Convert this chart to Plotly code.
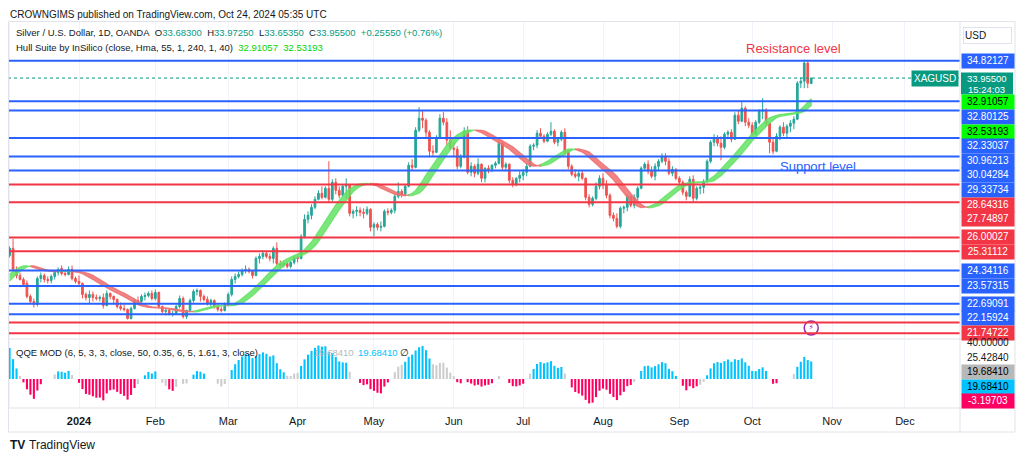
import numpy as np
import pandas as pd
import plotly.graph_objects as go

# ---------------------------------------------------------------- data
# daily closes used only to warm up the indicators (Aug 1 - Nov 30 2023, not shown)
warmup_close = [
    24.35, 23.85, 23.55, 23.65, 23.45, 22.95, 22.95, 22.70, 22.70, 22.65, 22.60, 22.55,
    22.70, 22.75, 23.35, 23.65, 24.15, 24.20, 24.25, 24.35, 24.75, 24.65, 24.45,
    24.20, 24.10, 23.60, 23.15, 23.00, 22.95, 23.10, 23.10, 22.95, 22.65, 23.00,
    23.30, 23.50, 23.00, 23.40, 23.70, 23.40, 22.90, 22.70, 22.80, 22.10,
    21.10, 21.00, 21.10, 20.85, 21.60, 21.80, 21.95, 22.20, 21.65, 22.60, 22.45,
    22.90, 22.85, 23.20, 23.35, 22.90, 22.90, 22.85, 22.85, 23.15, 23.10, 22.90,
    23.10, 23.00, 23.30, 23.20, 22.40, 22.40, 22.65, 22.25, 22.25, 23.20, 23.40,
    23.85, 23.75, 23.75, 23.80, 23.55, 23.75, 24.40, 24.75, 24.95, 25.10, 25.15,
]

# visible daily bars, Dec 1 2023 - Oct 24 2024
open_ = [
    25.10, 25.45, 24.40, 24.10, 23.90, 23.70, 23.05, 22.80, 22.65, 23.95,
    24.10, 23.90, 23.85, 24.05, 24.25, 24.45, 24.20, 24.15, 24.40, 23.95,
    23.80, 23.70, 23.15, 23.00, 23.15, 23.00, 22.95, 23.00, 22.60, 23.20, 23.05,
    22.90, 22.55, 22.45, 22.40, 21.95, 22.45, 22.85, 22.80, 23.05, 23.10, 23.20,
    22.95, 23.25, 22.55, 22.30, 22.35, 22.15, 22.20, 22.55, 22.95, 22.05, 22.35,
    22.85, 23.30, 23.35, 23.05, 22.90, 22.70, 22.85, 22.55, 22.40, 22.35,
    22.65, 23.15, 23.90, 24.05, 24.15, 24.35, 24.40, 24.30, 24.10, 24.95,
    25.05, 25.20, 25.05, 24.95, 25.45, 24.70, 24.60, 24.70, 24.55, 24.75,
    25.00, 24.95, 26.05, 26.90, 27.10, 27.50, 27.90, 28.20, 28.00, 28.45, 27.90,
    28.75, 28.35, 28.10, 28.55, 28.60, 27.20, 27.30, 27.35, 27.25, 27.20, 27.40,
    26.50, 26.65, 26.50, 26.55, 27.30, 27.25, 27.35, 28.05, 28.30, 28.15, 28.55, 29.60,
    29.50, 31.35, 31.95, 31.85, 31.25, 30.30, 30.25, 30.95, 31.95, 31.75, 30.85,
    30.45, 30.40, 29.55, 30.00, 31.30, 29.25, 29.55, 29.20, 29.65, 28.95,
    29.45, 29.40, 29.60, 29.70, 30.70, 29.50, 29.65, 28.85, 28.65, 28.95,
    29.10, 29.25, 29.55, 30.55, 30.60, 31.20, 31.05, 30.80, 31.15, 31.30, 30.75, 30.90,
    31.25, 30.30, 29.55, 29.15, 29.05, 29.20, 28.95, 28.00, 27.65, 27.95, 28.55,
    28.95, 28.60, 28.10, 27.10, 26.95, 26.55, 27.45, 27.50, 28.05, 27.60, 28.00,
    28.45, 29.45, 29.65, 29.30, 29.05, 29.55, 29.80, 30.05, 29.80, 29.20, 29.40,
    28.95, 28.75, 28.25, 28.05, 28.90, 27.95, 28.45, 28.50, 28.80, 29.80, 30.75,
    30.95, 30.70, 30.50, 31.15, 31.25, 30.90, 32.10, 31.80, 32.45, 31.75,
    31.60, 31.15, 31.75, 32.30, 32.35, 31.70, 30.75, 30.30, 31.05, 31.50,
    31.20, 31.55, 31.70, 31.90, 33.70, 33.80, 34.70, 33.683,
]
high = [
    25.55, 25.92, 24.55, 24.25, 24.00, 23.85, 23.15, 22.95, 24.05, 24.25,
    24.20, 24.05, 24.15, 24.35, 24.50, 24.60, 24.35, 24.55, 24.60, 24.05,
    24.10, 23.75, 23.25, 23.35, 23.30, 23.15, 23.10, 23.20, 23.35, 23.25, 23.10,
    22.95, 22.75, 22.65, 22.45, 22.55, 22.95, 23.05, 23.15, 23.25, 23.30, 23.35,
    23.40, 23.30, 22.60, 22.50, 22.45, 22.35, 22.65, 23.10, 23.05, 22.40, 22.95,
    23.40, 23.45, 23.40, 23.15, 23.05, 22.95, 22.90, 22.65, 22.55, 22.75,
    23.25, 24.05, 24.20, 24.30, 24.45, 24.60, 24.50, 24.35, 25.05, 25.20,
    25.35, 25.30, 25.20, 25.55, 25.75, 24.85, 24.80, 24.80, 24.85, 25.10,
    25.10, 26.15, 27.15, 27.30, 27.65, 28.05, 28.35, 28.55, 28.55, 29.80, 28.90,
    28.95, 28.55, 28.65, 28.95, 28.65, 27.40, 27.55, 27.50, 27.45, 27.55, 27.45,
    26.75, 26.75, 26.80, 27.40, 27.45, 27.45, 28.15, 28.75, 28.40, 28.65, 29.75, 29.90,
    31.50, 32.50, 32.35, 31.95, 31.35, 30.60, 31.10, 32.15, 32.25, 31.95, 31.35,
    30.80, 30.55, 30.15, 31.50, 31.55, 29.75, 29.65, 29.95, 29.70, 29.50,
    29.60, 29.65, 29.80, 30.85, 30.85, 29.75, 29.70, 29.00, 29.00, 29.30,
    29.40, 29.70, 30.65, 30.70, 31.35, 31.45, 31.15, 31.25, 31.75, 31.40, 30.95, 31.35,
    31.45, 30.35, 29.65, 29.40, 29.35, 29.35, 29.00, 28.15, 28.05, 28.75, 29.10,
    29.20, 28.85, 28.20, 27.25, 27.20, 27.55, 27.60, 28.15, 28.10, 28.15, 28.55,
    29.55, 29.75, 29.85, 29.55, 29.70, 29.90, 30.20, 30.20, 29.95, 29.55, 29.45,
    29.05, 28.85, 28.35, 29.05, 29.10, 28.55, 28.60, 28.90, 29.90, 30.85, 31.15,
    31.10, 31.05, 31.25, 31.35, 31.40, 32.25, 32.35, 32.75, 32.55, 31.95,
    31.75, 31.85, 32.40, 32.95, 32.45, 31.75, 30.95, 31.20, 31.60, 31.75,
    31.65, 31.85, 32.05, 33.80, 34.00, 34.87, 34.86, 33.9725,
]
low = [
    25.00, 24.30, 23.95, 23.85, 23.55, 22.95, 22.70, 22.50, 22.55, 23.75,
    23.75, 23.70, 23.70, 23.90, 24.10, 24.10, 24.05, 24.10, 23.85, 23.70,
    23.60, 22.95, 22.85, 22.70, 22.80, 22.85, 22.80, 22.45, 22.55, 22.90, 22.65,
    22.45, 22.35, 22.30, 21.90, 21.90, 22.40, 22.70, 22.75, 22.85, 23.00, 22.85,
    22.85, 22.45, 22.20, 22.10, 22.10, 22.05, 22.15, 22.45, 21.95, 21.93, 22.30,
    22.75, 23.10, 22.80, 22.80, 22.60, 22.55, 22.45, 22.30, 22.25, 22.30,
    22.55, 23.05, 23.70, 23.95, 24.05, 24.20, 24.20, 23.95, 24.05, 24.70,
    24.90, 24.95, 24.80, 24.70, 24.60, 24.50, 24.50, 24.45, 24.45, 24.65,
    24.75, 24.90, 25.95, 26.70, 26.90, 27.40, 27.85, 27.90, 27.95, 27.75, 27.80,
    28.15, 27.95, 28.00, 27.90, 27.05, 26.95, 27.05, 27.05, 26.95, 27.10, 26.30,
    26.05, 26.35, 26.30, 26.50, 27.10, 27.15, 27.20, 27.95, 28.00, 28.05, 28.50, 29.35,
    29.45, 31.25, 31.45, 30.95, 30.00, 30.05, 30.20, 30.90, 31.60, 30.60, 30.35,
    30.05, 29.40, 29.45, 29.95, 29.15, 29.05, 29.00, 29.10, 28.75, 28.75,
    29.20, 29.25, 29.45, 29.65, 29.35, 29.30, 28.70, 28.50, 28.55, 28.75,
    28.85, 29.05, 29.50, 30.35, 30.45, 30.95, 30.70, 30.75, 31.05, 30.65, 30.55, 30.80,
    30.10, 29.40, 29.05, 28.95, 28.80, 28.85, 27.85, 27.50, 27.55, 27.85, 28.40,
    28.40, 27.95, 26.95, 26.80, 26.45, 26.45, 27.20, 27.30, 27.50, 27.45, 27.85,
    28.40, 29.30, 29.15, 28.95, 28.85, 29.30, 29.70, 29.60, 29.10, 29.05, 28.85,
    28.65, 28.10, 27.85, 28.00, 27.75, 27.85, 28.15, 28.20, 28.70, 29.70, 30.55,
    30.55, 29.85, 30.40, 30.90, 30.75, 30.85, 31.65, 31.75, 31.55, 31.45,
    31.05, 31.10, 31.65, 31.90, 31.55, 30.20, 30.15, 30.25, 30.85, 31.05,
    31.00, 31.25, 31.40, 31.85, 33.45, 33.45, 33.45, 33.6535,
]
close = [
    25.45, 24.40, 24.10, 23.90, 23.65, 23.05, 22.80, 22.65, 23.95, 24.10,
    23.90, 23.85, 24.05, 24.25, 24.40, 24.20, 24.15, 24.40, 23.95, 23.80,
    23.70, 23.15, 23.00, 23.15, 23.00, 22.95, 23.00, 22.60, 23.20, 23.05, 22.90,
    22.55, 22.45, 22.40, 21.95, 22.45, 22.85, 22.80, 23.05, 23.10, 23.20, 22.95,
    23.25, 22.55, 22.30, 22.35, 22.15, 22.20, 22.55, 22.95, 22.05, 22.35, 22.85,
    23.30, 23.35, 23.05, 22.90, 22.70, 22.85, 22.55, 22.40, 22.35, 22.65,
    23.15, 23.90, 24.05, 24.15, 24.35, 24.40, 24.30, 24.10, 24.95, 25.05,
    25.20, 25.05, 24.95, 25.45, 24.70, 24.60, 24.70, 24.55, 24.75, 25.00,
    24.95, 26.05, 26.90, 27.10, 27.50, 27.90, 28.20, 28.00, 28.45, 27.90, 28.75,
    28.35, 28.10, 28.55, 28.60, 27.20, 27.30, 27.35, 27.25, 27.20, 27.40, 26.50,
    26.65, 26.50, 26.55, 27.30, 27.25, 27.35, 28.05, 28.30, 28.15, 28.55, 29.60, 29.50,
    31.35, 31.95, 31.85, 31.25, 30.30, 30.25, 30.95, 31.95, 31.75, 30.85, 30.45,
    30.40, 29.55, 30.00, 31.30, 29.25, 29.55, 29.20, 29.65, 28.95, 29.45,
    29.40, 29.60, 29.70, 30.70, 29.50, 29.65, 28.85, 28.65, 28.95, 29.10,
    29.25, 29.55, 30.55, 30.60, 31.20, 31.05, 30.80, 31.15, 31.30, 30.75, 30.90, 31.25,
    30.30, 29.55, 29.15, 29.05, 29.20, 28.95, 28.00, 27.65, 27.95, 28.55, 28.95,
    28.60, 28.10, 27.10, 26.95, 26.55, 27.45, 27.50, 28.05, 27.60, 28.00, 28.45,
    29.45, 29.65, 29.30, 29.05, 29.55, 29.80, 30.05, 29.80, 29.20, 29.40, 28.95,
    28.75, 28.25, 28.05, 28.90, 27.95, 28.45, 28.50, 28.80, 29.80, 30.75, 30.95,
    30.70, 30.50, 31.15, 31.25, 30.90, 32.10, 31.80, 32.45, 31.75, 31.60,
    31.15, 31.75, 32.30, 32.35, 31.70, 30.75, 30.30, 31.05, 31.50, 31.20,
    31.55, 31.70, 31.90, 33.70, 33.80, 34.70, 33.6995, 33.955,
]

holidays = ["2023-12-25", "2024-01-01", "2024-03-29"]
dates = pd.bdate_range("2023-12-01", "2024-10-24")
dates = dates[~dates.isin(pd.to_datetime(holidays))]

blue_levels = [34.82127, 32.80125, 32.33037, 30.96213, 30.04284, 29.33734,
               24.34116, 23.57315, 22.69091, 22.15924]
red_levels = [28.64316, 27.74897, 26.00027, 25.31112, 21.74722]
red_unlabelled = [21.21]
last_price = 33.955
hull_last = [32.91057, 32.53193]
qqe_axis_labels = [40.0, 25.4284]
qqe_last = [19.6841, 19.6841, -3.19703]

tick_dates = ["2023-12-01", "2024-01-02", "2024-02-01", "2024-03-01", "2024-04-01",
              "2024-05-01", "2024-06-03", "2024-07-01", "2024-08-01", "2024-09-02",
              "2024-10-01", "2024-11-01", "2024-12-02"]
tick_text = ["Dec", "<b>2024</b>", "Feb", "Mar", "Apr", "May", "Jun", "Jul", "Aug",
             "Sep", "Oct", "Nov", "Dec"]

# ---------------------------------------------------------------- styles
FONT = "Liberation Sans"
TEXT = "#131722"
UP, DOWN = "#26a69a", "#ef5350"
BLUE, RED, TEAL = "#2962ff", "#f23645", "#089981"
LIME = "#00ff00"
HULL_UP, HULL_DN = "rgba(100,226,100,0.85)", "rgba(238,110,110,0.85)"
CYAN, PINK, SILVER = "#00c3ff", "#ff0062", "#cdcdcd"
BORDER, GRID = "#e0e3eb", "#f0f3fa"

# the page puts the figure 8px in from the top-left corner of the window;
# all pixel positions below are window pixels
OFF = 8
W, H = 1024 - OFF, 458 - OFF
M_L, M_R, M_T, M_B = 8 - OFF, 64, 22 - OFF, 50
PLOT_W, PLOT_H = W - M_L - M_R, H - M_T - M_B
MAIN_TOP, MAIN_BOT = 22, 338
QQE_TOP, QQE_BOT = 340, 408
Y_MAIN = [20.977, 36.753]
Y_QQE = [-32.2, 43.3]


def py(px):
    return (H - M_B - (px - OFF)) / PLOT_H


def pxx(px):
    return (px - OFF - M_L) / PLOT_W


def px_main(v):
    return MAIN_TOP + (Y_MAIN[1] - v) / (Y_MAIN[1] - Y_MAIN[0]) * (MAIN_BOT - MAIN_TOP)


def px_qqe(v):
    return QQE_TOP + (Y_QQE[1] - v) / (Y_QQE[1] - Y_QQE[0]) * (QQE_BOT - QQE_TOP)


# ---------------------------------------------------------------- indicators
def wma(s, n):
    w = np.arange(1, n + 1)
    return s.rolling(n).apply(lambda a: np.dot(a, w) / w.sum(), raw=True)


def hma(s, n):
    return wma(2 * wma(s, n // 2) - wma(s, n), int(round(np.sqrt(n))))


def rsi(s, n):
    d = s.diff()
    up = d.clip(lower=0).ewm(alpha=1 / n, adjust=False).mean()
    dn = (-d.clip(upper=0)).ewm(alpha=1 / n, adjust=False).mean()
    return 100 - 100 / (1 + up / dn)


def qqe_trail(rsi_ma, factor, wilders):
    dar = rsi_ma.diff().abs().ewm(span=wilders, adjust=False).mean()
    dar = dar.ewm(span=wilders, adjust=False).mean() * factor
    r, d = np.nan_to_num(rsi_ma.values), np.nan_to_num(dar.values)
    n = len(r)
    lb, sb, tr = np.zeros(n), np.zeros(n), np.ones(n)
    for i in range(1, n):
        nl, ns = r[i] - d[i], r[i] + d[i]
        lb[i] = max(lb[i - 1], nl) if (r[i - 1] > lb[i - 1] and r[i] > lb[i - 1]) else nl
        sb[i] = min(sb[i - 1], ns) if (r[i - 1] < sb[i - 1] and r[i] < sb[i - 1]) else ns
        sb2 = sb[i - 2] if i > 1 else sb[0]
        x_up = (r[i] > sb[i - 1]) != (r[i - 1] > sb2)
        lb2 = lb[i - 2] if i > 1 else lb[0]
        x_dn = (lb[i - 1] > r[i]) != (lb2 > r[i - 1])
        tr[i] = 1 if x_up else (-1 if x_dn else tr[i - 1])
    return pd.Series(np.where(tr == 1, lb, sb))


full = pd.Series(warmup_close + close, dtype=float)
n0 = len(warmup_close)

hull = hma(full, 55)
mhull = hull.values[n0:]
shull = hull.shift(2).values[n0:]
hull_up = mhull > shull

rsi_ma = rsi(full, 6).ewm(span=5, adjust=False).mean()
trail = qqe_trail(rsi_ma, 3.0, 11) - 50
basis = trail.rolling(50).mean()
dev = 0.35 * trail.rolling(50).std(ddof=0)
upper, lower = (basis + dev).values[n0:], (basis - dev).values[n0:]
hist = (rsi_ma - 50).values[n0:]
qqe_y, qqe_c = [], []
for hv, up_b, lo_b in zip(hist, upper, lower):
    if hv > 3 and hv > up_b:
        qqe_y.append(hv); qqe_c.append(CYAN)
    elif hv < -3 and hv < lo_b:
        qqe_y.append(hv); qqe_c.append(PINK)
    elif abs(hv) > 3:
        qqe_y.append(hv); qqe_c.append(SILVER)
    else:
        qqe_y.append(None); qqe_c.append(SILVER)

# ---------------------------------------------------------------- figure
fig = go.Figure()
fig.add_trace(go.Candlestick(
    x=dates, open=open_, high=high, low=low, close=close,
    increasing=dict(line=dict(color=UP, width=1), fillcolor=UP),
    decreasing=dict(line=dict(color=DOWN, width=1), fillcolor=DOWN),
    whiskerwidth=0, hoverinfo="skip", xaxis="x", yaxis="y",
))

# hull band, one filled polygon per colour run
start = 0
for i in range(1, len(hull_up) + 1):
    if i == len(hull_up) or hull_up[i] != hull_up[start]:
        end = min(i, len(hull_up) - 1)
        seg = list(dates[start:end + 1])
        col = HULL_UP if hull_up[start] else HULL_DN
        fig.add_trace(go.Scatter(
            x=seg + seg[::-1],
            y=list(mhull[start:end + 1]) + list(shull[start:end + 1])[::-1],
            mode="lines", fill="toself", fillcolor=col,
            line=dict(color=col, width=1.2), hoverinfo="skip", xaxis="x", yaxis="y",
        ))
        start = i

fig.add_trace(go.Bar(x=dates, y=qqe_y, marker=dict(color=qqe_c, line=dict(width=0)),
                     hoverinfo="skip", xaxis="x", yaxis="y2"))

# event marker
fig.add_trace(go.Scatter(
    x=[dates[-1]], y=[Y_MAIN[0] + 0.5], mode="markers+text", text=["⚡"],
    textposition="middle center", textfont=dict(size=8, color="#9c27b0", family="DejaVu Sans"),
    marker=dict(size=14, color="white", line=dict(color="#9c27b0", width=1.5)),
    hoverinfo="skip", xaxis="x", yaxis="y",
))

shapes = []
for lv in blue_levels:
    shapes.append(dict(type="line", xref="paper", x0=0, x1=1, yref="y", y0=lv, y1=lv,
                       line=dict(color=BLUE, width=2), layer="above"))
for lv in red_levels + red_unlabelled:
    shapes.append(dict(type="line", xref="paper", x0=0, x1=1, yref="y", y0=lv, y1=lv,
                       line=dict(color=RED, width=2), layer="above"))
shapes.append(dict(type="line", xref="paper", x0=0, x1=1, yref="y", y0=last_price,
                   y1=last_price, line=dict(color=TEAL, width=1, dash="dot"), layer="above"))
for y_px in (339, 408):
    shapes.append(dict(type="line", xref="paper", yref="paper", x0=pxx(8), x1=pxx(1015),
                       y0=py(y_px), y1=py(y_px), line=dict(color=BORDER, width=1), layer="above"))
shapes.append(dict(type="line", xref="paper", yref="paper", x0=1, x1=1, y0=py(432), y1=py(22),
                   line=dict(color=BORDER, width=1), layer="above"))
shapes.append(dict(type="rect", xref="paper", yref="paper", x0=pxx(8.5), x1=pxx(1015),
                   y0=py(432), y1=py(21.5), line=dict(color=BORDER, width=1), layer="above"))

ann = []


def stack(items, to_px, h=13.6, gap=1.0):
    out, bottom = [], -1e9
    for it in sorted(items, key=lambda t: -t[0]):
        top_off = 5.5 if it[4] else h / 2
        bot_off = 16.5 if it[4] else h / 2
        top = max(to_px(it[0]) - top_off, bottom + gap)
        c = top + top_off
        bottom = c + bot_off
        out.append((c,) + tuple(it[1:]))
    return out


def box(c, text, bg, fg, h=13.6):
    ann.append(dict(xref="paper", yref="paper", x=1, y=py(c), xanchor="left", yanchor="middle",
                    xshift=1, text=text, showarrow=False, bgcolor=bg, width=50, height=h - 2,
                    borderpad=1, font=dict(size=10, color=fg, family=FONT)))


main_items = [(v, f"{v:.5f}", BLUE, "white", False) for v in blue_levels]
main_items += [(v, f"{v:.5f}", RED, "white", False) for v in red_levels]
main_items += [(v, f"{v:.5f}", LIME, "black", False) for v in hull_last]
main_items.append((last_price, f"{last_price:.5f}", TEAL, "white", True))
for c, text, bg, fg, tall in stack(main_items, px_main):
    if tall:
        shapes.append(dict(type="rect", xref="paper", yref="paper", x0=pxx(961), x1=pxx(1013),
                           y0=py(c + 16.5), y1=py(c - 5.5), fillcolor=bg,
                           line=dict(width=0), layer="above"))
        ann.append(dict(xref="paper", yref="paper", x=pxx(987), y=py(c), xanchor="center",
                        yanchor="middle", text=text, showarrow=False,
                        font=dict(size=9.5, color=fg, family=FONT)))
        ann.append(dict(xref="paper", yref="paper", x=pxx(987), y=py(c + 11), xanchor="center",
                        yanchor="middle", text="15:24:03", showarrow=False,
                        font=dict(size=9.5, color=fg, family=FONT)))
        ann.append(dict(xref="paper", yref="paper", x=1, y=py(px_main(last_price)),
                        xanchor="right", yanchor="middle", xshift=-1, text="XAGUSD",
                        showarrow=False, bgcolor=TEAL, borderpad=2,
                        font=dict(size=10, color="white", family=FONT)))
    else:
        box(c, text, bg, fg)

qqe_items = [(qqe_axis_labels[0], f"{qqe_axis_labels[0]:.5f}", "rgba(0,0,0,0)", TEXT, False),
             (qqe_axis_labels[1], f"{qqe_axis_labels[1]:.5f}", "rgba(0,0,0,0)", TEXT, False),
             (qqe_last[0], f"{qqe_last[0]:.5f}", "#b8b8b8", "black", False),
             (qqe_last[1] - 1e-6, f"{qqe_last[1]:.5f}", CYAN, "black", False),
             (qqe_last[2], f"{qqe_last[2]:.5f}", PINK, "white", False)]
for c, text, bg, fg, tall in stack(qqe_items, px_qqe):
    box(c, text, bg, fg)

ann.append(dict(xref="paper", yref="paper", x=pxx(963), y=py(35.5), xanchor="left",
                yanchor="middle", text="USD", showarrow=False, bgcolor="white",
                bordercolor=BORDER, borderwidth=1, width=45, height=13, align="left",
                font=dict(size=10, color=TEXT, family=FONT)))


def legend_text(x_px, y_px, text, size=10, color=TEXT):
    ann.append(dict(xref="paper", yref="paper", x=pxx(x_px), y=py(y_px), xanchor="left",
                    yanchor="middle", text=text, showarrow=False, align="left",
                    font=dict(size=size, color=color, family=FONT)))


def col(text, color):
    return f"<span style='color:{color}'>{text}</span>"


sp = "\u00a0\u00a0"
legend_text(8, 15, "CROWNGIMS published on TradingView.com, Oct 24, 2024 05:35 UTC", 10)
legend_text(14, 33,
            "Silver / U.S. Dollar, 1D, OANDA" + sp + "O" + col("33.68300", TEAL) + sp
            + "H" + col("33.97250", TEAL) + sp + "L" + col("33.65350", TEAL) + sp
            + "C" + col("33.95500", TEAL) + sp + col("+0.25550 (+0.76%)", TEAL), 9.5)
legend_text(14, 47, "Hull Suite by InSilico (close, Hma, 55, 1, 240, 1, 40)" + sp
            + col(f"{hull_last[0]:.5f}", "#00d400") + sp + col(f"{hull_last[1]:.5f}", "#00d400"), 9.5)
legend_text(14, 352, "QQE MOD (6, 5, 3, 3, close, 50, 0.35, 6, 5, 1.61, 3, close)", 9.5)
legend_text(312, 352, f"{qqe_last[0]:.5f}", 9.5, "#b8b8b8")
legend_text(356, 352, f"{qqe_last[1]:.5f}", 9.5, CYAN)
legend_text(398, 352, "∅", 9.5)
legend_text(8, 445, "<b>TV</b>", 12)
legend_text(27, 445, "TradingView", 12)

ann.append(dict(xref="x", yref="y", x="2024-10-17", y=35.41, text="Resistance level",
                showarrow=False, font=dict(size=13, color=RED, family=FONT)))
ann.append(dict(xref="x", yref="y", x="2024-10-28", y=29.56, text="Support level",
                showarrow=False, font=dict(size=13, color=BLUE, family=FONT)))

fig.update_layout(
    width=W, height=H, margin=dict(l=M_L, r=M_R, t=M_T, b=M_B),
    paper_bgcolor="white", plot_bgcolor="white", showlegend=False, hovermode=False,
    bargap=0.4, font=dict(family=FONT, color=TEXT),
    xaxis=dict(domain=[0, 1], anchor="y2", type="date",
               range=["2023-11-30 13:00", "2024-12-23 21:00"],
               rangebreaks=[dict(bounds=["sat", "mon"]), dict(values=holidays)],
               rangeslider=dict(visible=False), tickvals=tick_dates, ticktext=tick_text,
               ticks="", showline=False, zeroline=False, showgrid=True, gridcolor=GRID,
               ticklabelstandoff=5, tickfont=dict(size=11, color=TEXT, family=FONT)),
    yaxis=dict(domain=[py(MAIN_BOT), 1], range=Y_MAIN, anchor="x", visible=False),
    yaxis2=dict(domain=[0, py(QQE_TOP)], range=Y_QQE, anchor="x", visible=False),
    shapes=shapes, annotations=ann,
)

fig.write_html("out.html")
